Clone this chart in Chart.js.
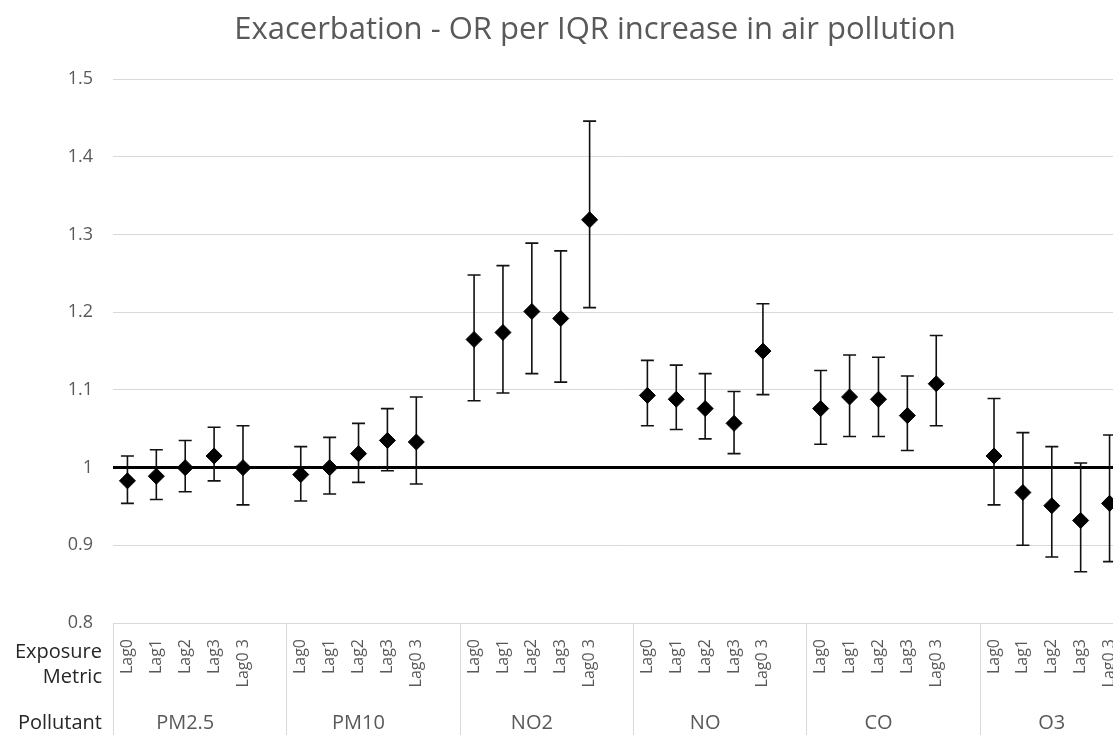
<!DOCTYPE html>
<html><head><meta charset="utf-8">
<script src="https://cdn.jsdelivr.net/npm/chart.js@4/dist/chart.umd.min.js"></script>
<style>html,body{margin:0;padding:0;overflow:hidden;background:#fff}canvas{display:block}</style>
</head><body>
<canvas id="c" width="1190" height="735"></canvas>
<script>
// ---- data ----
const pollutants = ['PM2.5', 'PM10', 'NO2', 'NO', 'CO', 'O3'];
const lags = ['Lag0', 'Lag1', 'Lag2', 'Lag3', 'Lag0 3'];
const orPM25 = [0.983, 0.989, 1.000, 1.015, 1.000];
const loPM25 = [0.954, 0.959, 0.969, 0.983, 0.952];
const hiPM25 = [1.015, 1.023, 1.035, 1.052, 1.054];
const orPM10 = [0.991, 1.000, 1.018, 1.035, 1.033];
const loPM10 = [0.957, 0.966, 0.981, 0.996, 0.979];
const hiPM10 = [1.027, 1.039, 1.057, 1.076, 1.091];
const orNO2 = [1.165, 1.174, 1.201, 1.192, 1.319];
const loNO2 = [1.086, 1.096, 1.121, 1.110, 1.206];
const hiNO2 = [1.248, 1.260, 1.289, 1.279, 1.446];
const orNO = [1.093, 1.088, 1.076, 1.057, 1.150];
const loNO = [1.054, 1.049, 1.037, 1.018, 1.094];
const hiNO = [1.138, 1.132, 1.121, 1.098, 1.211];
const orCO = [1.076, 1.091, 1.088, 1.067, 1.108];
const loCO = [1.030, 1.040, 1.040, 1.022, 1.054];
const hiCO = [1.125, 1.145, 1.142, 1.118, 1.170];
const orO3 = [1.015, 0.968, 0.951, 0.932, 0.954];
const loO3 = [0.952, 0.900, 0.885, 0.866, 0.879];
const hiO3 = [1.089, 1.045, 1.027, 1.006, 1.042];
const yTickValues = [0.8, 0.9, 1, 1.1, 1.2, 1.3, 1.4, 1.5];
const refValue = 1;
const titleText = 'Exacerbation - OR per IQR increase in air pollution';
const rowLabels = ['Exposure', 'Metric', 'Pollutant'];

// ---- build category slots (one blank slot after each group except the last) ----
const groupsOR = [orPM25, orPM10, orNO2, orNO, orCO, orO3];
const groupsLo = [loPM25, loPM10, loNO2, loNO, loCO, loO3];
const groupsHi = [hiPM25, hiPM10, hiNO2, hiNO, hiCO, hiO3];
const labels = [], vals = [], lows = [], highs = [], groupStart = [];
pollutants.forEach((p, g) => {
  groupStart.push(labels.length);
  lags.forEach((l, i) => {
    labels.push(l); vals.push(groupsOR[g][i]); lows.push(groupsLo[g][i]); highs.push(groupsHi[g][i]);
  });
  if (g < pollutants.length - 1) { labels.push(''); vals.push(null); lows.push(null); highs.push(null); }
});

const FONT = "'Open Sans', sans-serif";

const errorBars = {
  id: 'errorBars',
  beforeDatasetsDraw(chart) {
    const { ctx, scales: { x, y } } = chart;
    ctx.save();
    ctx.strokeStyle = '#111';
    ctx.lineWidth = 1.6;
    const cap = 6.5;
    vals.forEach((v, i) => {
      if (v === null) return;
      const px = x.getPixelForValue(i);
      const yl = y.getPixelForValue(lows[i]);
      const yh = y.getPixelForValue(highs[i]);
      ctx.beginPath();
      ctx.moveTo(px, yl); ctx.lineTo(px, yh);
      ctx.moveTo(px - cap, yl); ctx.lineTo(px + cap, yl);
      ctx.moveTo(px - cap, yh); ctx.lineTo(px + cap, yh);
      ctx.stroke();
    });
    ctx.restore();
  }
};

const groupAxis = {
  id: 'groupAxis',
  afterDraw(chart) {
    const { ctx, chartArea, scales: { x } } = chart;
    const slot = x.getPixelForValue(1) - x.getPixelForValue(0);
    const bottom = chart.height;
    ctx.save();
    ctx.strokeStyle = '#d9d9d9';
    ctx.lineWidth = 1;
    const bounds = groupStart.map(s => x.getPixelForValue(s) - slot / 2);
    bounds.push(x.getPixelForValue(labels.length - 1) + slot / 2);
    bounds.forEach(bx => {
      const xx = Math.round(bx) + 0.5;
      ctx.beginPath(); ctx.moveTo(xx, chartArea.bottom); ctx.lineTo(xx, bottom); ctx.stroke();
    });
    ctx.fillStyle = '#595959';
    ctx.font = '20px ' + FONT;
    ctx.textAlign = 'center';
    ctx.textBaseline = 'middle';
    pollutants.forEach((p, g) => {
      const s = groupStart[g];
      const cx = (x.getPixelForValue(s) + x.getPixelForValue(s + lags.length - 1)) / 2;
      ctx.fillText(p, cx, 723);
    });
    ctx.fillStyle = '#262626';
    ctx.textAlign = 'right';
    ctx.fillText(rowLabels[0], 102, 652);
    ctx.fillText(rowLabels[1], 102, 677);
    ctx.fillText(rowLabels[2], 102, 723);
    ctx.restore();
  }
};

new Chart(document.getElementById('c'), {
  type: 'line',
  data: {
    labels: labels,
    datasets: [{
      data: vals,
      showLine: false,
      pointStyle: 'rectRot',
      pointRadius: 8,
      pointHoverRadius: 8,
      pointBackgroundColor: '#000',
      pointBorderColor: '#000',
      pointBorderWidth: 1
    }]
  },
  plugins: [errorBars, groupAxis],
  options: {
    responsive: false,
    animation: false,
    devicePixelRatio: 1,
    layout: { padding: 0 },
    plugins: {
      legend: { display: false },
      tooltip: { enabled: false },
      title: {
        display: true,
        text: titleText,
        color: '#595959',
        font: { family: FONT, size: 31, weight: 'normal' },
        padding: { top: 12, bottom: 30 }
      }
    },
    scales: {
      x: {
        type: 'category',
        offset: true,
        grid: { display: false, drawTicks: false },
        border: { display: true, color: '#d9d9d9', width: 1 },
        ticks: {
          autoSkip: false,
          minRotation: 90,
          maxRotation: 90,
          padding: 16,
          color: '#595959',
          font: { family: FONT, size: 16 }
        },
        afterFit(s) { s.height = 112; }
      },
      y: {
        min: 0.8,
        max: 1.5,
        afterBuildTicks(s) { s.ticks = yTickValues.map(v => ({ value: v })); },
        ticks: {
          padding: 20,
          color: '#595959',
          font: { family: FONT, size: 18 },
          callback: v => String(+v.toFixed(1))
        },
        grid: {
          drawTicks: false,
          color: c => (c.tick && Math.abs(c.tick.value - refValue) < 1e-9) ? '#000' : '#d9d9d9',
          lineWidth: c => (c.tick && Math.abs(c.tick.value - refValue) < 1e-9) ? 3 : 1
        },
        border: { display: false },
        afterFit(s) { s.width = 113; }
      },
      y2: {
        position: 'right',
        display: true,
        grid: { display: false, drawTicks: false },
        ticks: { display: false },
        border: { display: false },
        afterFit(s) { s.width = 66; }
      }
    }
  }
});
</script>
</body></html>
